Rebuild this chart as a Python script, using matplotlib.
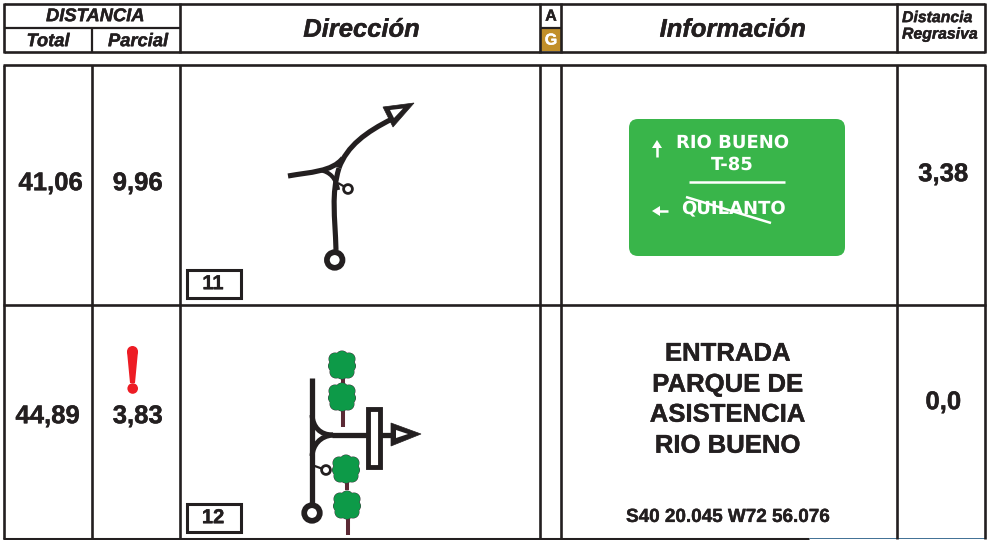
import matplotlib
matplotlib.use("Agg")
import matplotlib.pyplot as plt
import matplotlib.patheffects as pe
from matplotlib.patches import Circle, FancyBboxPatch, Rectangle, PathPatch, Polygon
from matplotlib.path import Path

plt.rcParams['font.family'] = ['Liberation Sans', 'DejaVu Sans']
plt.rcParams['text.hinting'] = 'no_hinting'
plt.rcParams['text.hinting_factor'] = 1

INK = '#231f20'
GOLD = '#c18f2a'
SIGN_GREEN = '#39b54a'
TREE_GREEN = '#0d9a48'
TRUNK = '#5b2a35'
RED = '#ed1c24'

# table contents
col_edges = [4, 91.5, 180, 540, 561, 897, 985]
row_edges = [65, 305]
total_km = ['41,06', '44,89']
parcial_km = ['9,96', '3,83']
regresiva_km = ['3,38', '0,0']
box_numbers = ['11', '12']
info_lines = ['ENTRADA', 'PARQUE DE', 'ASISTENCIA', 'RIO BUENO']
gps_text = 'S40 20.045 W72 56.076'

fig = plt.figure(figsize=(9.89, 5.40), dpi=100)
ax = fig.add_axes([0, 0, 1, 1])
ax.set_xlim(0, 989)
ax.set_ylim(540, 0)
ax.axis('off')


def line(xs, ys, lw=1.9, color=INK, z=2, cap='butt'):
    ax.plot(xs, ys, color=color, lw=lw, solid_capstyle=cap, zorder=z)


def curve(verts, lw=3.7, z=3):
    codes = [Path.MOVETO] + [Path.CURVE4] * (len(verts) - 1)
    ax.add_patch(PathPatch(Path(verts, codes), fill=False, ec=INK, lw=lw, capstyle='butt', zorder=z))


def ring(x, y, r, lw):
    ax.add_patch(Circle((x, y), r, fc='white', ec=INK, lw=lw, zorder=4))


def arrow_head(outer, inner):
    ax.add_patch(Polygon(outer, closed=True, fc=INK, ec=INK, lw=0.5, zorder=5))
    ax.add_patch(Polygon(inner, closed=True, fc='white', ec='none', zorder=6))


def tree(x, y, trunk_end):
    line([x + 1, x + 1], [y, trunk_end], lw=2.9, color=TRUNK, z=3)
    lobes = [(0, 0, 9), (-7, -6, 6), (0, -8, 6), (7, -6, 6), (-8, 1, 5.5), (8, 1, 5.5),
             (-6, 7, 6), (0, 8, 6), (6, 7, 6)]
    for dx, dy, r in lobes:
        ax.add_patch(Circle((x + dx, y + dy), r + 0.5, fc='#3c3c3c', ec='none', zorder=4))
    for dx, dy, r in lobes:
        ax.add_patch(Circle((x + dx, y + dy), r, fc=TREE_GREEN, ec='none', zorder=5))


heavy = [pe.withStroke(linewidth=0.3, foreground=INK)]
heavy_white = [pe.withStroke(linewidth=0.3, foreground='white')]
bold_it = dict(ha='center', va='center', fontweight='bold', fontstyle='italic', color=INK, path_effects=heavy)
bold = dict(ha='center', va='center', fontweight='bold', color=INK, path_effects=heavy)

# header frame
line([4, 985], [4, 4])
line([4, 985], [52, 52])
line([4, 181], [27.5, 27.5], lw=1.6)
line([540, 561], [27.5, 27.5], lw=1.6)
ax.add_patch(Rectangle((540, 28), 21, 23, fc=GOLD, ec='none', zorder=1))
for x in [4, 180, 540, 561, 897, 985]:
    line([x, x], [3, 53])
line([91.5, 91.5], [28, 53], lw=1.6)

ax.text(94.5, 16.5, 'DISTANCIA', fontsize=13.2, **bold_it)
ax.text(48, 41.5, 'Total', fontsize=13.2, **bold_it)
ax.text(137.5, 41.5, 'Parcial', fontsize=13.2, **bold_it)
ax.text(362.5, 30, 'Dirección', fontsize=18.4, **bold_it)
ax.text(734, 30, 'Información', fontsize=18.4, **bold_it)
ax.text(551, 16.5, 'A', fontsize=11.5, **bold)
ax.text(551, 40.5, 'G', ha='center', va='center', fontsize=11.5, fontweight='bold', color='white', path_effects=heavy_white)
ax.text(902, 18, 'Distancia', ha='left', va='center', fontsize=11.4, fontweight='bold', fontstyle='italic', color=INK, path_effects=heavy)
ax.text(902, 34.5, 'Regrasiva', ha='left', va='center', fontsize=11.4, fontweight='bold', fontstyle='italic', color=INK, path_effects=heavy)

# body grid, the bottom rule stops short and a thin blue one carries on
for y in row_edges:
    line([3, 986], [y, y])
line([3, 809], [539, 539], lw=2.2)
line([809, 985], [537.8, 537.8], lw=0.7, color='#3f6f94')
for x in col_edges:
    line([x, x], [row_edges[0], 539])

# row values
total_x = [51, 48]
row_text_y = [183.5, 416.5]
regres_y = [174.5, 402.5]
for i in range(2):
    ax.text(total_x[i], row_text_y[i], total_km[i], fontsize=18.5, **bold)
    ax.text(138, row_text_y[i], parcial_km[i], fontsize=18.5, **bold)
    ax.text(943.5, regres_y[i], regresiva_km[i], fontsize=18.5, **bold)

# numbered boxes
for num, y0 in zip(box_numbers, [269.5, 503.5]):
    ax.add_patch(Rectangle((187, y0), 53.5, 28, fc='white', ec=INK, lw=2.2, zorder=3))
    ax.text(213, y0 + 14.5, num, fontsize=14.5, zorder=4, **bold)

# red warning sign
ax.add_patch(Circle((132.5, 351.5), 5.5, fc=RED, ec='none', zorder=3))
ax.add_patch(Polygon([(127, 351.5), (138, 351.5), (135, 383), (130, 383)],
                     closed=True, fc=RED, ec='none', zorder=3))
ax.add_patch(Circle((132.7, 388.5), 5.3, fc=RED, ec='none', zorder=3))

# first road symbol
curve([(336, 250), (335, 215), (331, 195), (339, 168)])
curve([(339, 168), (347, 146), (366, 132), (392, 119)])
curve([(288, 176), (310, 172), (332, 172), (343, 158)])
curve([(320, 170), (330, 172), (336, 178), (338, 190)], lw=3.0)
line([338, 345], [183, 187], lw=1.6, z=3)
ring(348, 189, 4.4, 2)
ring(334.7, 260, 7.8, 4.1)
arrow_head([(383, 107), (414, 103), (393, 127)], [(390, 110), (403, 108.5), (394, 118)])

# second road symbol
line([312, 312], [378, 503], lw=3.8, z=3)
line([332, 393], [435, 435], lw=3.8, z=3)
curve([(312, 415), (313, 427), (320, 435), (333, 435)], lw=3.6)
curve([(312, 456), (313, 445), (320, 436), (333, 435)], lw=3.6)
line([312, 323], [465, 469], lw=1.6, z=3)
ring(326, 470, 4.4, 2)
ring(312, 513, 7.8, 4.1)
ax.add_patch(Rectangle((367.5, 408.5), 12.8, 58, fc='white', ec=INK, lw=3.5, zorder=4))
arrow_head([(391, 423), (421, 434), (391, 446)], [(396, 430), (408, 434), (396, 438)])
tree(342, 365, 385)
tree(342, 397, 427)
tree(346, 469, 490)
tree(347, 505, 535)

# green sign
ax.add_patch(FancyBboxPatch((629, 119), 216, 137, boxstyle='round,pad=0,rounding_size=9',
                            fc=SIGN_GREEN, ec='none', zorder=2))
sign = dict(ha='center', va='center', fontsize=12.8, fontweight='bold', family='DejaVu Sans', color='white', zorder=3)
ax.text(732.5, 142.5, 'RIO BUENO', **sign)
ax.text(732.5, 164.5, 'T-85', **sign)
ax.text(733, 208.5, 'QUILANTO', **sign)
line([689, 785], [182, 182], lw=1.8, color='white', z=3)
line([686, 771], [197, 223], lw=1.8, color='white', z=4)
line([657, 657], [157, 146], lw=1.8, color='white', z=3)
ax.add_patch(Polygon([(652, 148), (657, 140), (662, 148)], closed=True, fc='white', ec='none', zorder=3))
line([668, 658], [211, 211], lw=1.8, color='white', z=3)
ax.add_patch(Polygon([(660, 206), (652, 211), (660, 216)], closed=True, fc='white', ec='none', zorder=3))

# info text second row
for txt, y in zip(info_lines, [354, 385, 415, 446]):
    ax.text(728.5, y, txt, fontsize=18.5, **bold)
ax.text(728.5, 517, gps_text, fontsize=13.6, **bold)

fig.savefig('out.png', dpi=100)
